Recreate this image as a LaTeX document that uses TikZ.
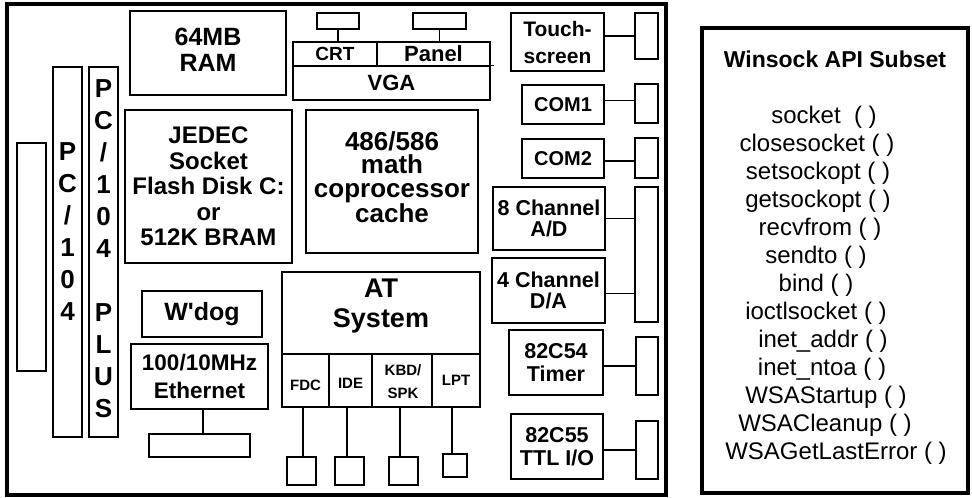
\documentclass[tikz,border=0pt]{standalone}
\usepackage{fontspec}
\setmainfont{Liberation Sans}
\begin{document}
\begin{tikzpicture}[x=1pt,y=-1pt,
  box/.style={draw, line width=1.1pt, inner sep=0pt, align=center},
  fs/.style 2 args={font=\bfseries\fontsize{#1}{#2}\selectfont},
  txt/.style={align=center, inner sep=0pt},
  api/.style={inner sep=0pt, font=\fontsize{24}{28}\selectfont},
  wire/.style={line width=1.1pt}]
\useasboundingbox (0,0) rectangle (972,498);
% outer frames
\draw[line width=4.5pt] (7,4) rectangle (666,495);
\node[draw, line width=4pt, minimum width=266pt, minimum height=465.5pt, inner sep=0pt] (win) at (835,260.25) {};
\node[fs={23}{26}] (wintitle) at (835,59) {Winsock API Subset};
\node[api] (w1) at (824,117) {socket\ \ ( )};
\node[api] (w2) at (817,145) {closesocket ( )};
\node[api] (w3) at (818,173) {setsockopt ( )};
\node[api] (w4) at (818,201) {getsockopt ( )};
\node[api] (w5) at (820,229) {recvfrom ( )};
\node[api] (w6) at (816,257) {sendto ( )};
\node[api] (w7) at (816,285) {bind ( )};
\node[api] (w8) at (816,313) {ioctlsocket ( )};
\node[api] (w9) at (823,341) {inet\_addr ( )};
\node[api] (w10) at (822,369) {inet\_ntoa ( )};
\node[api] (w11) at (826,397) {WSAStartup ( )};
\node[api] (w12) at (825,425) {WSACleanup ( )};
\node[api] (w13) at (836,453) {WSAGetLastError ( )};
% left buses
\node[box, minimum width=29pt, minimum height=228pt] (farleft) at (31.5,257) {};
\node[box, minimum width=29pt, minimum height=370pt] (pc104) at (67.5,252) {};
\node[txt, fs={26}{32}] (pc104t) at (67.5,232) {P\\C\\/\\1\\0\\4};
\node[box, minimum width=29pt, minimum height=370pt] (plus) at (103.5,252) {};
\node[txt, fs={26}{32}] (plust) at (103.5,249) {P\\C\\/\\1\\0\\4\\[32pt]P\\L\\U\\S};
% memory
\node[box, minimum width=156pt, minimum height=84pt] (ram) at (208,53) {};
\node[txt, fs={25}{26}] (ramt) at (208,50) {64MB\\RAM};
\node[box, fs={24}{25.5}, minimum width=167pt, minimum height=153pt] (jedec) at (208.5,186.5) {JEDEC\\Socket\\Flash Disk C:\\or\\512K BRAM};
% VGA
\node[box, fs={19}{22}, minimum width=84pt, minimum height=24pt] (crt) at (335,54) {CRT};
\node[box, fs={22}{24}, minimum width=113pt, minimum height=24pt] (panel) at (433.5,54) {Panel};
\node[box, fs={22}{24}, minimum width=197pt, minimum height=34pt] (vga) at (391.5,83) {VGA};
\draw[wire] (vga.north east) -- ++(3,0);
\node[box, minimum width=42pt, minimum height=16pt] (crtconn) at (338,21) {};
\node[box, minimum width=53pt, minimum height=16pt] (panelconn) at (439.5,21) {};
\draw[wire] (crtconn.south) -- (crtconn.south |- crt.north);
\draw[wire] (panelconn.south) -- (panelconn.south |- panel.north);
% CPU
\node[box, minimum width=172pt, minimum height=143pt] (cpu) at (392,181.5) {};
\node[txt, fs={26}{23.5}] (cput) at (392,177) {486/586\\math\\coprocessor\\cache};
% AT system
\node[box, minimum width=198pt, minimum height=82pt] (at) at (381,313) {};
\node[txt, fs={27}{30}] (att) at (381,306) {AT\\System};
\node[box, minimum width=47pt, minimum height=53pt] (fdc) at (305.5,380.5) {};
\node[box, minimum width=43pt, minimum height=53pt] (ide) at (350.5,380.5) {};
\node[box, minimum width=60pt, minimum height=53pt] (kbd) at (402,380.5) {};
\node[box, minimum width=48pt, minimum height=53pt] (lpt) at (456,380.5) {};
\node[txt, fs={15}{15}] (fdct) at (305.5,385) {FDC};
\node[txt, fs={15}{15}] (idet) at (350.5,383) {IDE};
\node[txt, fs={15}{23}] (kbdt) at (403,381.5) {KBD/\\SPK};
\node[txt, fs={15}{15}] (lptt) at (456,380) {LPT};
\node[box, minimum width=29pt, minimum height=28pt] (fdcb) at (301.5,471) {};
\node[box, minimum width=29pt, minimum height=28pt] (ideb) at (349.5,471) {};
\node[box, minimum width=29pt, minimum height=28pt] (kbdb) at (403.5,471) {};
\node[box, minimum width=24pt, minimum height=23pt] (lptb) at (455,465.5) {};
\draw[wire] ([xshift=1.5pt]fdcb.north) -- ([xshift=1.5pt]fdcb.north |- fdc.south);
\draw[wire] ([xshift=-2.5pt]ideb.north) -- ([xshift=-2.5pt]ideb.north |- ide.south);
\draw[wire] ([xshift=-3.5pt]kbdb.north) -- ([xshift=-3.5pt]kbdb.north |- kbd.south);
\draw[wire] ([xshift=-3pt]lptb.north) -- ([xshift=-3pt]lptb.north |- lpt.south);
% watchdog, ethernet
\node[box, fs={25}{26}, minimum width=120pt, minimum height=46pt] (wdog) at (202,314) {W\textquotesingle dog};
\node[box, fs={22.5}{28.5}, minimum width=137pt, minimum height=65pt] (eth) at (199.5,376.5) {100/10MHz\\Ethernet};
\node[box, minimum width=101pt, minimum height=23pt] (ethconn) at (199.5,445.5) {};
\draw[wire] ([xshift=3.5pt]eth.south) -- ([xshift=3.5pt]ethconn.north);
% right column
\node[box, fs={21}{27}, minimum width=93pt, minimum height=58pt] (touch) at (557.5,42) {Touch-\\screen};
\node[box, minimum width=23pt, minimum height=46pt] (touchconn) at (646.5,36) {};
\draw[wire] (touchconn.west) -- (touchconn.west -| touch.east);
\node[box, fs={20}{24}, minimum width=82pt, minimum height=39pt] (com1) at (563,104.5) {COM1};
\node[box, minimum width=23pt, minimum height=39pt] (com1conn) at (646.5,103.5) {};
\draw[wire] ([yshift=3pt]com1conn.west) -- ([yshift=3pt]com1conn.west -| com1.east);
\node[box, fs={20}{24}, minimum width=82pt, minimum height=39pt] (com2) at (563,158.5) {COM2};
\node[box, minimum width=23pt, minimum height=40pt] (com2conn) at (646.5,158) {};
\draw[wire] ([yshift=-3pt]com2conn.west) -- ([yshift=-3pt]com2conn.west -| com2.east);
\node[box, fs={21.5}{21}, minimum width=112pt, minimum height=63pt] (ad) at (549,218.5) {8 Channel\\A/D};
\node[box, fs={21.5}{21}, minimum width=113pt, minimum height=65pt] (da) at (548.5,290.5) {4 Channel\\D/A};
\node[box, minimum width=23pt, minimum height=135pt] (adconn) at (646.5,254.5) {};
\draw[wire] (ad.east) -- (ad.east -| adconn.west);
\draw[wire] ([yshift=-3pt]da.east) -- ([yshift=-3pt]da.east -| adconn.west);
\node[box, fs={21.5}{23}, minimum width=94pt, minimum height=65pt] (timer) at (556,362.5) {82C54\\Timer};
\node[box, minimum width=22pt, minimum height=58pt] (timerconn) at (647,366) {};
\draw[wire] (timerconn.west) -- (timerconn.west -| timer.east);
\node[box, fs={21.5}{23}, minimum width=92pt, minimum height=65pt] (ttl) at (557,446.5) {82C55\\TTL I/O};
\node[box, minimum width=22pt, minimum height=58pt] (ttlconn) at (647,450) {};
\draw[wire] (ttlconn.west) -- (ttlconn.west -| ttl.east);
\end{tikzpicture}
\end{document}
